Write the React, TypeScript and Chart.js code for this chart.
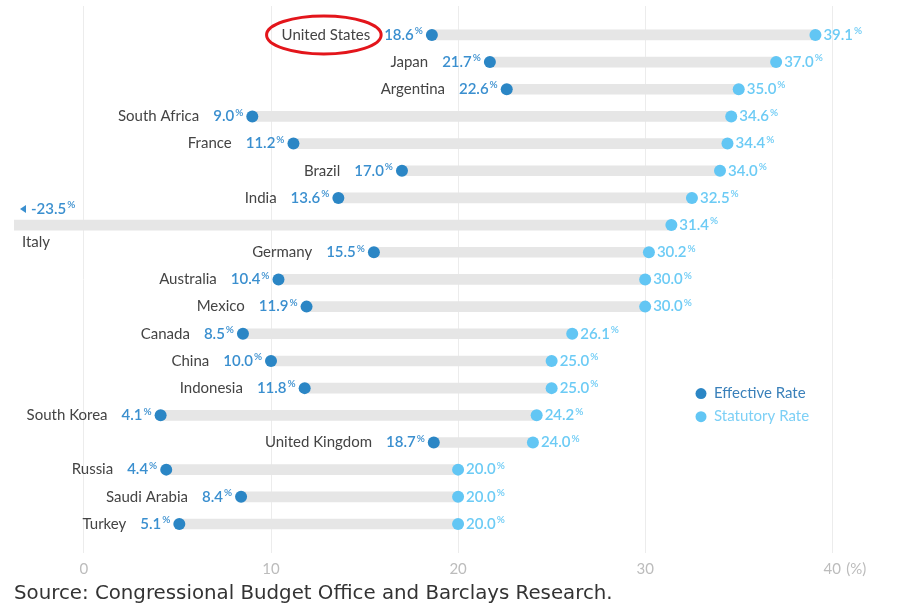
import React, { useEffect, useRef } from 'react';
import { Chart, registerables } from 'chart.js';

Chart.register(...registerables);

const countries = [
  'United States', 'Japan', 'Argentina', 'South Africa', 'France', 'Brazil', 'India', 'Italy',
  'Germany', 'Australia', 'Mexico', 'Canada', 'China', 'Indonesia', 'South Korea',
  'United Kingdom', 'Russia', 'Saudi Arabia', 'Turkey',
];
const effective = [18.6, 21.7, 22.6, 9.0, 11.2, 17.0, 13.6, -23.5, 15.5, 10.4, 11.9, 8.5, 10.0, 11.8, 4.1, 18.7, 4.4, 8.4, 5.1];
const statutory = [39.1, 37.0, 35.0, 34.6, 34.4, 34.0, 32.5, 31.4, 30.2, 30.0, 30.0, 26.1, 25.0, 25.0, 24.2, 24.0, 20.0, 20.0, 20.0];
const xTicks = [0, 10, 20, 30, 40];
const unitLabel = '(%)';
const legendLabels = ['Effective Rate', 'Statutory Rate'];
const sourceText = 'Source: Congressional Budget Office and Barclays Research.';
const highlighted = 'United States';

const FONT = 'Lato, "Open Sans", sans-serif';
const EFF_DOT = '#2b86c5';
const EFF_TEXT = '#3a8fcf';
const STAT_DOT = '#62c6f4';
const STAT_TEXT = '#6ccbf5';
const BAR = '#e6e6e6';
const TICK = '#bcbcbc';

function drawPct(ctx: CanvasRenderingContext2D, v: number, x: number, y: number, align: 'left' | 'right', color: string) {
  const num = v.toFixed(1);
  ctx.font = `600 15px ${FONT}`;
  const w1 = ctx.measureText(num).width;
  ctx.font = `600 10px ${FONT}`;
  const w2 = ctx.measureText('%').width;
  const total = w1 + w2 + 1;
  const start = align === 'right' ? x - total : x;
  ctx.fillStyle = color;
  ctx.textAlign = 'left';
  ctx.textBaseline = 'middle';
  ctx.font = `600 15px ${FONT}`;
  ctx.fillText(num, start, y);
  ctx.font = `600 10px ${FONT}`;
  ctx.fillText('%', start + w1 + 1, y - 4);
  return total;
}

const rowLabels = {
  id: 'rowLabels',
  afterDatasetsDraw(chart: any) {
    const { ctx, scales, chartArea } = chart;
    const xs = scales.x;
    const ys = scales.y;
    ctx.save();
    countries.forEach((name, i) => {
      const yy = ys.getPixelForValue(i);
      const sx = xs.getPixelForValue(statutory[i]);
      drawPct(ctx, statutory[i], sx + 8, yy, 'left', STAT_TEXT);
      if (effective[i] < xs.min) {
        const ax = chartArea.left + 6;
        const ay = yy - 16;
        ctx.fillStyle = EFF_TEXT;
        ctx.beginPath();
        ctx.moveTo(ax, ay);
        ctx.lineTo(ax + 6, ay - 4);
        ctx.lineTo(ax + 6, ay + 4);
        ctx.closePath();
        ctx.fill();
        drawPct(ctx, effective[i], ax + 11, ay, 'left', EFF_TEXT);
        ctx.font = `15px ${FONT}`;
        ctx.fillStyle = '#444';
        ctx.textAlign = 'left';
        ctx.textBaseline = 'middle';
        ctx.fillText(name, chartArea.left + 8, yy + 17);
      } else {
        const ex = xs.getPixelForValue(effective[i]);
        const w = drawPct(ctx, effective[i], ex - 9, yy, 'right', EFF_TEXT);
        ctx.font = `15px ${FONT}`;
        ctx.fillStyle = '#444';
        ctx.textAlign = 'right';
        ctx.textBaseline = 'middle';
        const nx = ex - 9 - w - 14;
        ctx.fillText(name, nx, yy);
        if (name === highlighted) {
          const nw = ctx.measureText(name).width;
          ctx.strokeStyle = '#e3151b';
          ctx.lineWidth = 3;
          ctx.beginPath();
          ctx.ellipse(nx - nw / 2 - 2, yy, nw / 2 + 13, 19, 0, 0, Math.PI * 2);
          ctx.stroke();
        }
      }
    });
    // legend
    const lx = chartArea.right - 193;
    const colors = [EFF_DOT, STAT_DOT];
    const tcolors = ['#3a80ba', '#7dd0f6'];
    legendLabels.forEach((lab, k) => {
      const ly = ys.getPixelForValue(13.2 + k * 0.85);
      ctx.fillStyle = colors[k];
      ctx.beginPath();
      ctx.arc(lx, ly, 5.5, 0, Math.PI * 2);
      ctx.fill();
      ctx.font = `15px ${FONT}`;
      ctx.fillStyle = tcolors[k];
      ctx.textAlign = 'left';
      ctx.textBaseline = 'middle';
      ctx.fillText(lab, lx + 13, ly);
    });
    // unit label after last tick
    const tx = xs.getPixelForValue(xTicks[xTicks.length - 1]);
    ctx.font = `15px ${FONT}`;
    ctx.fillStyle = TICK;
    ctx.textAlign = 'left';
    ctx.textBaseline = 'middle';
    ctx.fillText(unitLabel, tx + 14, chartArea.bottom + 16);
    ctx.restore();
  },
};

export default function App() {
  const ref = useRef<HTMLCanvasElement>(null);
  useEffect(() => {
    document.body.style.margin = '0';
    const chart = new Chart(ref.current as HTMLCanvasElement, {
      type: 'scatter',
      data: {
        datasets: [
          {
            type: 'bar',
            indexAxis: 'y',
            data: countries.map((_, i) => ({ x: [effective[i], statutory[i]], y: i })),
            backgroundColor: BAR,
            barThickness: 10,
            order: 3,
          } as any,
          {
            type: 'scatter',
            data: countries.map((_, i) => ({ x: effective[i], y: i })),
            backgroundColor: EFF_DOT,
            pointRadius: 6,
            borderWidth: 0,
            order: 1,
          },
          {
            type: 'scatter',
            data: countries.map((_, i) => ({ x: statutory[i], y: i })),
            backgroundColor: STAT_DOT,
            pointRadius: 6,
            borderWidth: 0,
            order: 2,
          },
        ],
      },
      options: {
        animation: false,
        responsive: false,
        layout: { padding: { left: 14, right: 2, top: 5, bottom: 0 } },
        plugins: {
          legend: { display: false },
          tooltip: { enabled: false },
          title: {
            display: true,
            position: 'bottom',
            align: 'start',
            text: sourceText,
            color: '#333',
            font: { family: '"DejaVu Sans", sans-serif', size: 19.8, weight: 'normal' },
            padding: { top: 4.1, bottom: 5.1 },
          },
        },
        scales: {
          x: {
            type: 'linear',
            min: -3.737,
            max: 43.3,
            offset: false,
            afterBuildTicks: (s: any) => {
              s.ticks = xTicks.map((v) => ({ value: v }));
            },
            grid: { color: '#ececec', drawTicks: true, tickLength: 7, tickColor: 'rgba(0,0,0,0)', offset: false },
            border: { display: false },
            ticks: {
              color: TICK,
              padding: 0,
              font: { family: FONT, size: 15 },
              maxRotation: 0,
              autoSkip: false,
            },
          },
          y: {
            type: 'linear',
            reverse: true,
            offset: false,
            min: -1.065,
            max: 19.07,
            display: false,
          },
        },
      },
      plugins: [rowLabels],
    } as any);
    return () => chart.destroy();
  }, []);
  return (
    <div style={{ width: 900, height: 611 }}>
      <canvas ref={ref} width={900} height={611} style={{ display: 'block' }} />
    </div>
  );
}
